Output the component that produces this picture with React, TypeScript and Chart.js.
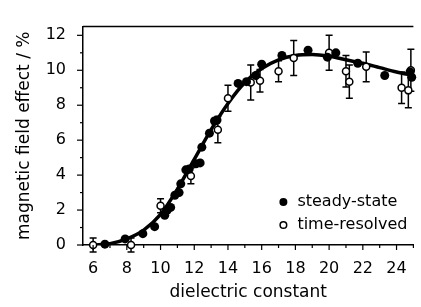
import React, { useEffect, useRef } from 'react';
import { Chart, registerables } from 'chart.js';

Chart.register(...registerables);

// ---- data ----
const steadyX = [6.7, 7.9, 8.95, 9.65, 10.25, 10.4, 10.6, 10.85, 11.1, 11.2, 11.5, 11.7, 12.1, 12.35, 12.45, 12.9, 13.2, 13.35, 14.6, 15.1, 15.65, 16.0, 17.2, 18.75, 19.9, 20.4, 21.7, 23.3, 24.8, 24.9];
const steadyY = [0.05, 0.35, 0.65, 1.05, 1.7, 2.0, 2.15, 2.85, 3.0, 3.5, 4.3, 4.35, 4.65, 4.7, 5.6, 6.4, 7.1, 7.15, 9.25, 9.35, 9.7, 10.35, 10.85, 11.15, 10.75, 11.0, 10.4, 9.7, 9.9, 9.6];

const timeX = [6.0, 8.25, 10.0, 11.8, 13.4, 14.0, 15.35, 15.9, 17.0, 17.9, 20.0, 21.0, 21.2, 22.2, 24.3, 24.7, 24.85];
const timeY = [0.0, 0.0, 2.25, 3.95, 6.6, 8.4, 9.3, 9.4, 9.95, 10.7, 11.0, 9.95, 9.35, 10.2, 9.0, 8.85, 10.0];
const timeErr = [0.4, 0.4, 0.4, 0.45, 0.75, 0.75, 1.0, 0.65, 0.6, 1.0, 1.0, 0.9, 0.95, 0.85, 0.9, 1.0, 1.2];

const fitX = [6, 7, 8, 9, 10, 11, 12, 13, 14, 15, 16, 17, 18, 19, 20, 21, 22, 23, 24, 25];
const fitY = [0, 0.08, 0.35, 0.85, 1.75, 3.2, 4.9, 6.6, 8.1, 9.3, 10.1, 10.6, 10.85, 10.9, 10.8, 10.6, 10.4, 10.15, 9.9, 9.7];

const xTicks = [6, 8, 10, 12, 14, 16, 18, 20, 22, 24];
const yTicks = [0, 2, 4, 6, 8, 10, 12];
const xMin = 5.4;
const xMax = 25;
const yMin = 0;
const yMax = 12.5;

const seriesLabels = ['steady-state', 'time-resolved'];
const xTitle = 'dielectric constant';
const yTitle = 'magnetic field effect / %';

const FONT = '"DejaVu Sans", sans-serif';

const errorBarPlugin = {
  id: 'errorBars',
  beforeDatasetDraw(chart: any, args: any) {
    if (args.index !== 1) return;
    const { ctx, scales } = chart;
    const xs = scales.x;
    const ys = scales.y;
    ctx.save();
    ctx.strokeStyle = '#000';
    ctx.lineWidth = 1.5;
    timeX.forEach((xv, i) => {
      const px = xs.getPixelForValue(xv);
      const top = ys.getPixelForValue(timeY[i] + timeErr[i]);
      const bot = ys.getPixelForValue(timeY[i] - timeErr[i]);
      ctx.beginPath();
      ctx.moveTo(px, top);
      ctx.lineTo(px, bot);
      ctx.moveTo(px - 3.5, top);
      ctx.lineTo(px + 3.5, top);
      ctx.moveTo(px - 3.5, bot);
      ctx.lineTo(px + 3.5, bot);
      ctx.stroke();
    });
    ctx.restore();
  },
};

const framePlugin = {
  id: 'frame',
  afterDraw(chart: any) {
    const { ctx, chartArea: a, scales } = chart;
    const xs = scales.x;
    const ys = scales.y;
    ctx.save();
    ctx.strokeStyle = '#000';
    ctx.lineWidth = 1.5;
    ctx.beginPath();
    ctx.moveTo(a.left, a.top);
    ctx.lineTo(a.right, a.top);
    ctx.stroke();
    ctx.lineWidth = 1.2;
    for (let v = Math.ceil(xs.min); v <= xs.max; v++) {
      const px = xs.getPixelForValue(v);
      const len = v % 2 === 0 ? 5 : 3;
      ctx.beginPath();
      ctx.moveTo(px, a.bottom);
      ctx.lineTo(px, a.bottom + len);
      ctx.stroke();
    }
    for (let v = Math.ceil(ys.min); v <= ys.max; v++) {
      const py = ys.getPixelForValue(v);
      const len = v % 2 === 0 ? 6 : 3;
      ctx.beginPath();
      ctx.moveTo(a.left, py);
      ctx.lineTo(a.left - len, py);
      ctx.stroke();
    }
    // legend
    const lx = a.right - 130;
    const ly1 = a.bottom - 43;
    const ly2 = a.bottom - 20;
    ctx.fillStyle = '#000';
    ctx.beginPath();
    ctx.arc(lx, ly1, 4, 0, Math.PI * 2);
    ctx.fill();
    ctx.fillStyle = '#fff';
    ctx.lineWidth = 1.5;
    ctx.beginPath();
    ctx.arc(lx, ly2, 3.3, 0, Math.PI * 2);
    ctx.fill();
    ctx.stroke();
    ctx.fillStyle = '#000';
    ctx.font = '16px ' + FONT;
    ctx.textBaseline = 'middle';
    ctx.textAlign = 'left';
    ctx.fillText(seriesLabels[0], lx + 14, ly1);
    ctx.fillText(seriesLabels[1], lx + 14, ly2);
    ctx.restore();
  },
};

export default function App() {
  const ref = useRef<HTMLCanvasElement>(null);
  useEffect(() => {
    if (!ref.current) return;
    const chart = new Chart(ref.current, {
      type: 'scatter',
      data: {
        datasets: [
          {
            label: seriesLabels[0],
            data: steadyX.map((x, i) => ({ x, y: steadyY[i] })),
            backgroundColor: '#000',
            borderColor: '#000',
            borderWidth: 0,
            pointRadius: 4.5,
            showLine: false,
            clip: false,
            order: 1,
          },
          {
            label: seriesLabels[1],
            data: timeX.map((x, i) => ({ x, y: timeY[i] })),
            backgroundColor: '#fff',
            borderColor: '#000',
            borderWidth: 1.5,
            pointRadius: 3.5,
            showLine: false,
            clip: false,
            order: 2,
          },
          {
            label: 'fit',
            data: fitX.map((x, i) => ({ x, y: fitY[i] })),
            borderColor: '#000',
            borderWidth: 3.5,
            pointRadius: 0,
            showLine: true,
            cubicInterpolationMode: 'monotone',
            fill: false,
            order: 3,
          } as any,
        ],
      },
      options: {
        animation: false,
        responsive: false,
        events: [],
        layout: { padding: { top: 14, right: 0, left: 0, bottom: 0 } },
        plugins: { legend: { display: false }, tooltip: { enabled: false } },
        scales: {
          x: {
            type: 'linear',
            min: xMin,
            max: xMax,
            afterFit: (s: any) => { s.height = 62; },
            afterBuildTicks: (s: any) => { s.ticks = xTicks.map((v) => ({ value: v })); },
            grid: { display: false, drawTicks: false },
            border: { display: true, color: '#000', width: 1.5 },
            ticks: { color: '#000', font: { family: FONT, size: 16 }, padding: 14, maxRotation: 0, autoSkip: false },
            title: { display: true, text: xTitle, color: '#000', font: { family: FONT, size: 17 }, padding: { top: 0, bottom: 4 } },
          },
          y: {
            type: 'linear',
            min: yMin,
            max: yMax,
            afterFit: (s: any) => { s.width = 83; },
            afterBuildTicks: (s: any) => { s.ticks = yTicks.map((v) => ({ value: v })); },
            grid: { display: false, drawTicks: false },
            border: { display: true, color: '#000', width: 1.5 },
            ticks: { color: '#000', font: { family: FONT, size: 16 }, padding: 17, autoSkip: false },
            title: { display: true, text: yTitle, color: '#000', font: { family: FONT, size: 17 }, padding: { top: 14, bottom: 0 } },
          },
        },
      },
      plugins: [errorBarPlugin, framePlugin],
    } as any);
    return () => chart.destroy();
  }, []);
  return (
    <div style={{ position: 'absolute', left: 0, top: 0, width: 421, height: 307, background: '#fff' }}>
      <canvas ref={ref} width={421} height={307} />
    </div>
  );
}
